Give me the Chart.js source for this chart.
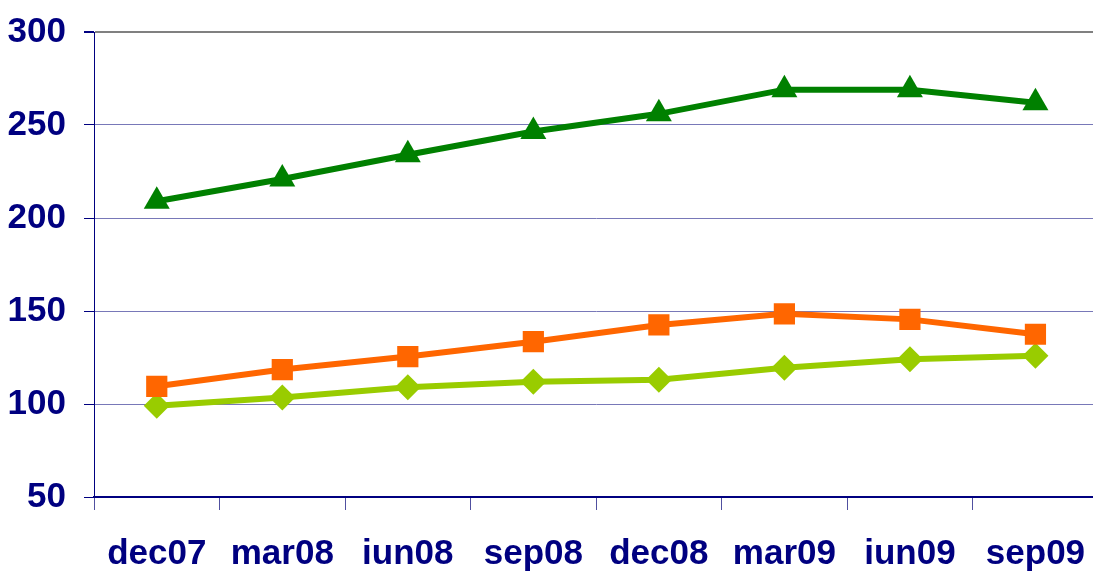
<!DOCTYPE html>
<html>
<head>
<meta charset="utf-8">
<script src="https://cdn.jsdelivr.net/npm/chart.js@4/dist/chart.umd.min.js"></script>
<style>
    html, body { margin: 0; padding: 0; background: #fff; overflow: hidden; }
    #wrap { position: relative; width: 1116px; height: 571px; }
</style>
</head>
<body>
<div id="wrap"><canvas id="chart"></canvas></div>
<script>
// quarters on the x axis
const quarters = ['dec07', 'mar08', 'iun08', 'sep08', 'dec08', 'mar09', 'iun09', 'sep09'];

// series
const upperSeries = [209, 221, 234, 246.5, 256, 269, 269, 262];
const middleSeries = [109.5, 118.5, 125.5, 133.5, 142.5, 148.5, 145.5, 137.5];
const lowerSeries = [99, 103.5, 109, 112, 113, 119.5, 124, 126];

// y axis ticks
const yTicks = [50, 100, 150, 200, 250, 300];

const labelFont = { family: "'Liberation Sans', Arial, sans-serif", size: 35, weight: 'bold', lineHeight: 0.8 };
const navy = '#000080';

function makeSeries(data, color, style, radius) {
    return {
        data: data,
        borderColor: color,
        backgroundColor: color,
        borderWidth: 6,
        pointStyle: style,
        pointRadius: radius,
        pointHoverRadius: radius,
        pointBorderWidth: 0,
        tension: 0
    };
}

const ctx = document.getElementById('chart').getContext('2d');
new Chart(ctx, {
    type: 'line',
    data: {
        labels: quarters,
        datasets: [
            makeSeries(upperSeries, '#008000', 'triangle', 15),
            makeSeries(middleSeries, '#FF6600', 'rect', 15),
            makeSeries(lowerSeries, '#99CC00', 'rectRot', 13)
        ]
    },
    options: {
        responsive: true,
        maintainAspectRatio: false,
        animation: false,
        layout: { padding: { top: 30, right: 8, left: 0, bottom: 0 } },
        plugins: {
            legend: { display: false },
            tooltip: { enabled: false }
        },
        scales: {
            x: {
                offset: true,
                grid: {
                    offset: true,
                    drawOnChartArea: false,
                    drawTicks: true,
                    tickLength: 13,
                    color: '#5050a0'
                },
                border: { color: navy, width: 2 },
                ticks: {
                    color: navy,
                    font: labelFont,
                    padding: 30,
                    maxRotation: 0,
                    autoSkip: false
                },
                afterFit: (scale) => { scale.height = 74; }
            },
            y: {
                min: 50,
                max: 300,
                afterBuildTicks: (scale) => {
                    scale.ticks = yTicks.map(v => ({ value: v }));
                },
                grid: {
                    color: (c) => (c.tick && c.tick.value === 300 ? '#808080' : '#7878b8'),
                    lineWidth: (c) => (c.tick && c.tick.value === 300 ? 2 : 1),
                    tickLength: 10,
                    tickColor: navy
                },
                border: { color: navy, width: 1 },
                ticks: {
                    color: navy,
                    font: labelFont,
                    padding: 18
                },
                afterFit: (scale) => { scale.width = 94; }
            }
        }
    }
});
</script>
</body>
</html>
